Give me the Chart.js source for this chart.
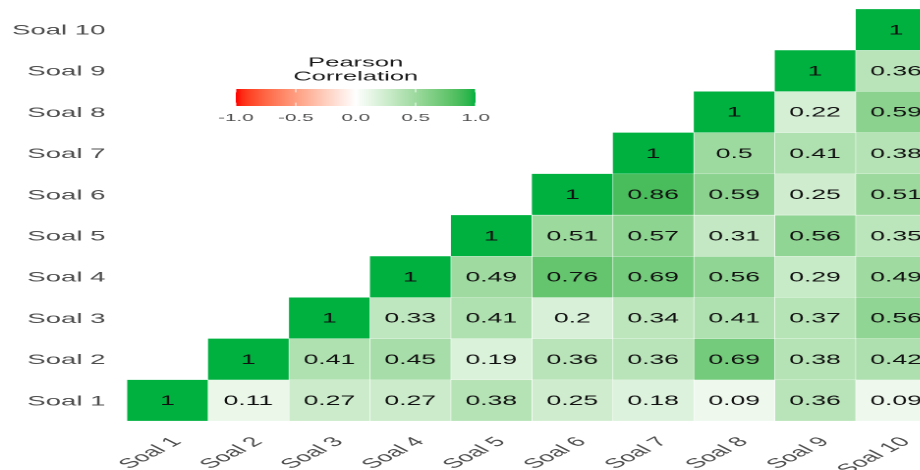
<!DOCTYPE html>
<html>
<head>
<meta charset="utf-8">
<script src="https://cdn.jsdelivr.net/npm/chart.js@4.4.1/dist/chart.umd.min.js"></script>
<style>
  html, body { margin: 0; padding: 0; background: #fff; overflow: hidden; width: 920px; height: 470px; }
  /* the plot is laid out with square tiles, then widened */
  #wrap { width: 480px; height: 470px; transform: scaleX(1.965); transform-origin: 0 0; }
</style>
</head>
<body>
<div id="wrap"><canvas id="corr" width="480" height="470"></canvas></div>
<script>
const soal = ['Soal 1', 'Soal 2', 'Soal 3', 'Soal 4', 'Soal 5', 'Soal 6', 'Soal 7', 'Soal 8', 'Soal 9', 'Soal 10'];

// upper triangle: one array per row (y = Soal n), entries for columns Soal 1..10
const soal1  = [1, 0.11, 0.27, 0.27, 0.38, 0.25, 0.18, 0.09, 0.36, 0.09];
const soal2  = [null, 1, 0.41, 0.45, 0.19, 0.36, 0.36, 0.69, 0.38, 0.42];
const soal3  = [null, null, 1, 0.33, 0.41, 0.2, 0.34, 0.41, 0.37, 0.56];
const soal4  = [null, null, null, 1, 0.49, 0.76, 0.69, 0.56, 0.29, 0.49];
const soal5  = [null, null, null, null, 1, 0.51, 0.57, 0.31, 0.56, 0.35];
const soal6  = [null, null, null, null, null, 1, 0.86, 0.59, 0.25, 0.51];
const soal7  = [null, null, null, null, null, null, 1, 0.5, 0.41, 0.38];
const soal8  = [null, null, null, null, null, null, null, 1, 0.22, 0.59];
const soal9  = [null, null, null, null, null, null, null, null, 1, 0.36];
const soal10 = [null, null, null, null, null, null, null, null, null, 1];
const rows = [soal1, soal2, soal3, soal4, soal5, soal6, soal7, soal8, soal9, soal10];

const legendTicks = [-1, -0.5, 0, 0.5, 1];
const legendTitle = ['Pearson', 'Correlation'];

const lowColor = '#FF0000';
const midColor = '#FFFFFF';
const highColor = '#00B140';

const FONT = '"Liberation Sans", Arial, sans-serif';

// colour ramp interpolated in CIELAB
function hexToRgb(h) {
    const n = parseInt(h.slice(1), 16);
    return [(n >> 16) & 255, (n >> 8) & 255, n & 255];
}
function toLinear(c) {
    c /= 255;
    return c <= 0.04045 ? c / 12.92 : Math.pow((c + 0.055) / 1.055, 2.4);
}
function fromLinear(c) {
    c = c <= 0.0031308 ? 12.92 * c : 1.055 * Math.pow(c, 1 / 2.4) - 0.055;
    return Math.round(Math.min(1, Math.max(0, c)) * 255);
}
const WX = 0.95047, WY = 1, WZ = 1.08883;
function f(t) { return t > 216 / 24389 ? Math.cbrt(t) : (24389 / 27 * t + 16) / 116; }
function finv(t) { return t > 6 / 29 ? t * t * t : (116 * t - 16) / (24389 / 27); }
function rgbToLab(rgb) {
    const [r, g, b] = rgb.map(toLinear);
    const x = (0.4124 * r + 0.3576 * g + 0.1805 * b) / WX;
    const y = (0.2126 * r + 0.7152 * g + 0.0722 * b) / WY;
    const z = (0.0193 * r + 0.1192 * g + 0.9505 * b) / WZ;
    const fx = f(x), fy = f(y), fz = f(z);
    return [116 * fy - 16, 500 * (fx - fy), 200 * (fy - fz)];
}
function labToRgb(lab) {
    const fy = (lab[0] + 16) / 116, fx = fy + lab[1] / 500, fz = fy - lab[2] / 200;
    const x = finv(fx) * WX, y = finv(fy) * WY, z = finv(fz) * WZ;
    const r = 3.2406 * x - 1.5372 * y - 0.4986 * z;
    const g = -0.9689 * x + 1.8758 * y + 0.0415 * z;
    const b = 0.0557 * x - 0.2040 * y + 1.0570 * z;
    return [r, g, b].map(fromLinear);
}
const labLow = rgbToLab(hexToRgb(lowColor));
const labMid = rgbToLab(hexToRgb(midColor));
const labHigh = rgbToLab(hexToRgb(highColor));

function colorFor(v) {
    const end = v >= 0 ? labHigh : labLow;
    const t = Math.min(1, Math.abs(v));
    const lab = labMid.map((m, k) => m + (end[k] - m) * t);
    const rgb = labToRgb(lab);
    return 'rgb(' + rgb.join(',') + ')';
}

// one dataset per column, each tile is a floating bar spanning its column
const datasets = soal.map((name, j) => ({
    label: name,
    data: rows.map(r => r[j] == null ? null : [j + 0.5, j + 1.5]),
    backgroundColor: rows.map(r => r[j] == null ? 'rgba(0,0,0,0)' : colorFor(r[j])),
    borderColor: '#ffffff',
    borderWidth: 0.4,
    borderSkipped: false,
    grouped: false,
    categoryPercentage: 1,
    barPercentage: 1
}));

const cellLabels = {
    id: 'cellLabels',
    afterDatasetsDraw(chart) {
        const ctx = chart.ctx;
        ctx.save();
        ctx.font = '13.5px ' + FONT;
        ctx.fillStyle = '#111111';
        ctx.textAlign = 'center';
        ctx.textBaseline = 'middle';
        chart.data.datasets.forEach((ds, j) => {
            chart.getDatasetMeta(j).data.forEach((bar, i) => {
                const v = rows[i][j];
                if (v == null) return;
                const p = bar.getCenterPoint();
                ctx.fillText(String(v), p.x, p.y + 1);
            });
        });
        ctx.restore();
    }
};

const colorLegend = {
    id: 'colorLegend',
    afterDraw(chart) {
        const ctx = chart.ctx;
        const x0 = 120, x1 = 242, y0 = 89, h = 17;
        const xOf = v => x0 + (v + 1) / 2 * (x1 - x0);
        ctx.save();
        const grad = ctx.createLinearGradient(x0, 0, x1, 0);
        for (let k = 0; k <= 40; k++) {
            grad.addColorStop(k / 40, colorFor(-1 + k / 20));
        }
        ctx.fillStyle = grad;
        ctx.fillRect(x0, y0, x1 - x0, h);

        ctx.strokeStyle = 'rgba(255,255,255,0.8)';
        ctx.lineWidth = 0.6;
        legendTicks.forEach(v => {
            const x = xOf(v);
            ctx.beginPath();
            ctx.moveTo(x, y0);
            ctx.lineTo(x, y0 + 3.4);
            ctx.moveTo(x, y0 + h - 3.4);
            ctx.lineTo(x, y0 + h);
            ctx.stroke();
        });

        ctx.textAlign = 'center';
        ctx.textBaseline = 'middle';
        ctx.fillStyle = '#1a1a1a';
        ctx.font = '13px ' + FONT;
        legendTitle.forEach((t, k) => ctx.fillText(t, (x0 + x1) / 2, 63 + k * 14));

        ctx.fillStyle = '#4d4d4d';
        ctx.font = '10.5px ' + FONT;
        legendTicks.forEach(v => ctx.fillText(v.toFixed(1), xOf(v), 118));
        ctx.restore();
    }
};

new Chart(document.getElementById('corr'), {
    type: 'bar',
    data: { labels: soal, datasets: datasets },
    options: {
        indexAxis: 'y',
        responsive: false,
        animation: false,
        devicePixelRatio: 2,
        layout: { padding: { top: 9, right: 3.4, left: 0, bottom: 0 } },
        plugins: {
            legend: { display: false },
            tooltip: { enabled: false }
        },
        scales: {
            x: {
                type: 'linear',
                min: 0.5,
                max: 10.5,
                grid: { display: false, drawTicks: false },
                border: { display: false },
                afterBuildTicks: s => { s.ticks = soal.map((_, j) => ({ value: j + 1 })); },
                afterFit: s => { s.height = 49; s.paddingLeft = 0; s.paddingRight = 0; },
                ticks: {
                    autoSkip: false,
                    minRotation: 45,
                    maxRotation: 45,
                    padding: 13,
                    labelOffset: 5,
                    color: '#4d4d4d',
                    font: { family: FONT, size: 13.5 },
                    callback: v => soal[v - 1]
                }
            },
            y: {
                type: 'category',
                reverse: true,
                grid: { display: false, drawTicks: false },
                border: { display: false },
                afterFit: s => { s.width = 64.6; s.paddingTop = 0; s.paddingBottom = 0; },
                ticks: {
                    padding: 11,
                    labelOffset: 1,
                    color: '#4d4d4d',
                    font: { family: FONT, size: 14 }
                }
            }
        }
    },
    plugins: [cellLabels, colorLegend]
});
</script>
</body>
</html>
